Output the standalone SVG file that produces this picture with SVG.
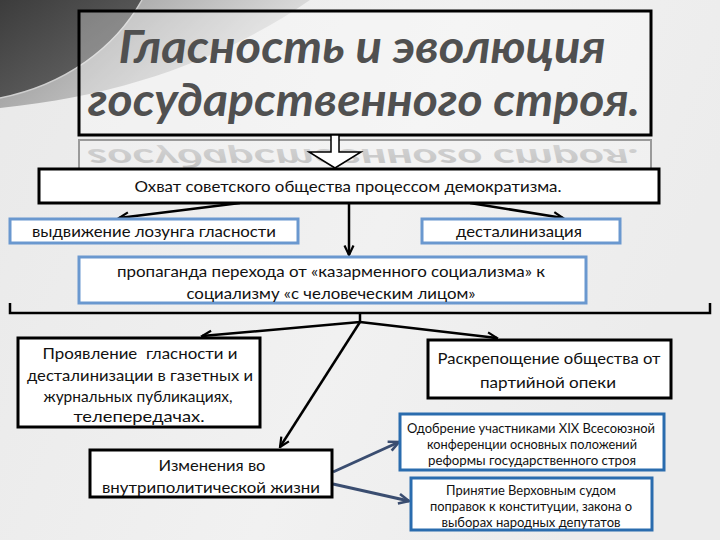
<svg xmlns="http://www.w3.org/2000/svg" width="720" height="540" viewBox="0 0 720 540">
<defs>
<linearGradient id="bg" x1="0" y1="0" x2="1" y2="0.3">
<stop offset="0" stop-color="#e9e9e9"/><stop offset="0.6" stop-color="#f1f1f1"/><stop offset="1" stop-color="#ececec"/>
</linearGradient>
<linearGradient id="band" x1="0" y1="0" x2="1" y2="0.4">
<stop offset="0" stop-color="#8c8c8c"/><stop offset="0.5" stop-color="#b8b8b8"/><stop offset="1" stop-color="#e6e6e6"/>
</linearGradient>
<linearGradient id="dark" x1="0" y1="0" x2="1" y2="1">
<stop offset="0" stop-color="#3c3c3c"/><stop offset="1" stop-color="#6c6c6c"/>
</linearGradient>
<linearGradient id="refl" x1="0" y1="0" x2="0" y2="1">
<stop offset="0" stop-color="#bdbdbd"/><stop offset="1" stop-color="#d4d4d4"/>
</linearGradient>
<clipPath id="reflClip"><rect x="80" y="141" width="570" height="27"/></clipPath>
<marker id="ah" viewBox="0 0 12 12" refX="10.5" refY="6" markerWidth="12" markerHeight="12" markerUnits="userSpaceOnUse" orient="auto">
<path d="M1,1.5 L10.5,6 L1,10.5" fill="none" stroke="#000" stroke-width="2.2"/>
</marker>
<marker id="ahb" viewBox="0 0 12 12" refX="10.5" refY="6" markerWidth="13" markerHeight="13" markerUnits="userSpaceOnUse" orient="auto">
<path d="M1,1.5 L10.5,6 L1,10.5" fill="none" stroke="#3a4d70" stroke-width="2.4"/>
</marker>
<style>
.t{font-family:Lato,"Open Sans","Liberation Sans",sans-serif;fill:#111;text-anchor:middle}
.m{font-size:16px}
.s{font-size:13px}
.bk{fill:#fff;stroke:#000;stroke-width:3}
.bl{fill:#fff;stroke:#6a98cf;stroke-width:3}
.db{fill:#fff;stroke:#2a6cae;stroke-width:3}
.c{fill:none;stroke:#000;stroke-width:2.5}
.cb{fill:none;stroke:#3a4d70;stroke-width:3}
</style>
</defs>
<rect width="720" height="540" fill="url(#bg)"/>
<path d="M0,0 H310 C230,55 130,95 0,108 Z" fill="url(#band)"/>
<path d="M0,0 H142 C115,48 65,85 0,98 Z" fill="url(#dark)"/>
<path d="M142,0 C115,48 65,85 0,98" fill="none" stroke="#cfcfcf" stroke-width="1.5"/>

<g id="title">
<rect x="79" y="11" width="572" height="124" fill="#fff" fill-opacity="0.3" stroke="#000" stroke-width="3"/>
<text x="362" y="63" font-family="Lato,'Open Sans','Liberation Sans',sans-serif" font-size="46" font-weight="bold" font-style="italic" fill="#505050" text-anchor="middle" textLength="487" lengthAdjust="spacingAndGlyphs">Гласность и эволюция</text>
<text x="364" y="116" font-family="Lato,'Open Sans','Liberation Sans',sans-serif" font-size="46" font-weight="bold" font-style="italic" fill="#505050" text-anchor="middle" textLength="552" lengthAdjust="spacingAndGlyphs">государственного строя.</text>
</g>
<g id="reflection">
<rect x="79" y="140" width="572" height="32" fill="#fff" fill-opacity="0.2" stroke="#9a9a9a" stroke-width="2"/>
<g clip-path="url(#reflClip)">
<text transform="translate(0,216.5) scale(1,-0.58)" x="364" y="116" font-family="Lato,'Open Sans','Liberation Sans',sans-serif" font-size="46" font-weight="bold" font-style="italic" fill="url(#refl)" text-anchor="middle" textLength="552" lengthAdjust="spacingAndGlyphs">государственного строя.</text>
</g>
</g>
<g id="blockarrow">
<path d="M331,135 V152 H309 L335,168 L361,152 H339 V135 Z" fill="#fff" stroke="#000" stroke-width="1.5"/>
</g>

<g id="connectors">
<path class="c" d="M240,203 L119,218" marker-end="url(#ah)"/>
<path class="c" d="M470,203 L563,218" marker-end="url(#ah)"/>
<path class="c" d="M349,203 V255" marker-end="url(#ah)"/>
<path class="c" d="M10,303 V313 H710 V303"/>
<path class="c" d="M360,313 V322"/>
<path class="c" d="M360,322 L202,336" marker-end="url(#ah)"/>
<path class="c" d="M360,322 L497,338" marker-end="url(#ah)"/>
<path class="c" d="M360,322 L280,447" marker-end="url(#ah)"/>
<path class="cb" d="M333,472 L399,442" marker-end="url(#ahb)"/>
<path class="cb" d="M333,484 L409,501" marker-end="url(#ahb)"/>
</g>

<g id="n-ohvat">
<rect class="bk" x="39" y="169" width="620" height="34"/>
<text class="t m" x="348" y="192" textLength="427" lengthAdjust="spacingAndGlyphs">Охват советского общества процессом демократизма.</text>
</g>
<g id="n-vydv">
<rect class="bl" x="10" y="219" width="288" height="24"/>
<text class="t m" x="154" y="237" textLength="244" lengthAdjust="spacingAndGlyphs">выдвижение лозунга гласности</text>
</g>
<g id="n-destal">
<rect class="bl" x="422" y="219" width="198" height="24"/>
<text class="t m" x="519" y="237" textLength="126" lengthAdjust="spacingAndGlyphs">десталинизация</text>
</g>
<g id="n-propaganda">
<rect class="bl" x="79" y="257" width="507" height="46"/>
<text class="t m" x="331" y="277" textLength="428" lengthAdjust="spacingAndGlyphs">пропаганда перехода от «казарменного социализма» к</text>
<text class="t m" x="331" y="299" textLength="289" lengthAdjust="spacingAndGlyphs">социализму «с человеческим лицом»</text>
</g>
<g id="n-proyavl">
<rect class="bk" x="18" y="338" width="242" height="89"/>
<text class="t m" x="140" y="359" textLength="195" lengthAdjust="spacingAndGlyphs" xml:space="preserve">Проявление  гласности и</text>
<text class="t m" x="140" y="381" textLength="226" lengthAdjust="spacingAndGlyphs">десталинизации в газетных и</text>
<text class="t m" x="138" y="402" textLength="189" lengthAdjust="spacingAndGlyphs">журнальных публикациях,</text>
<text class="t m" x="139" y="422" textLength="131" lengthAdjust="spacingAndGlyphs">телепередачах.</text>
</g>
<g id="n-raskrep">
<rect class="bk" x="428" y="340" width="243" height="58"/>
<text class="t m" x="549" y="364" textLength="223" lengthAdjust="spacingAndGlyphs">Раскрепощение общества от</text>
<text class="t m" x="548" y="388" textLength="136" lengthAdjust="spacingAndGlyphs">партийной опеки</text>
</g>
<g id="n-izmen">
<rect class="bk" x="90" y="450" width="242" height="47"/>
<text class="t m" x="212" y="471" textLength="107" lengthAdjust="spacingAndGlyphs">Изменения во</text>
<text class="t m" x="211" y="493" textLength="218" lengthAdjust="spacingAndGlyphs">внутриполитической жизни</text>
</g>
<g id="n-odobr">
<rect class="db" x="400" y="414" width="264" height="56"/>
<text class="t s" x="531" y="433" textLength="248" lengthAdjust="spacingAndGlyphs">Одобрение участниками XIX Всесоюзной</text>
<text class="t s" x="532" y="449" textLength="210" lengthAdjust="spacingAndGlyphs">конференции основных положений</text>
<text class="t s" x="532" y="465" textLength="208" lengthAdjust="spacingAndGlyphs">реформы государственного строя</text>
</g>
<g id="n-prinyat">
<rect class="db" x="411" y="478" width="241" height="52"/>
<text class="t s" x="531" y="495" textLength="170" lengthAdjust="spacingAndGlyphs">Принятие Верховным судом</text>
<text class="t s" x="531" y="511" textLength="202" lengthAdjust="spacingAndGlyphs">поправок к конституции, закона о</text>
<text class="t s" x="531" y="527" textLength="179" lengthAdjust="spacingAndGlyphs">выборах народных депутатов</text>
</g>
</svg>
